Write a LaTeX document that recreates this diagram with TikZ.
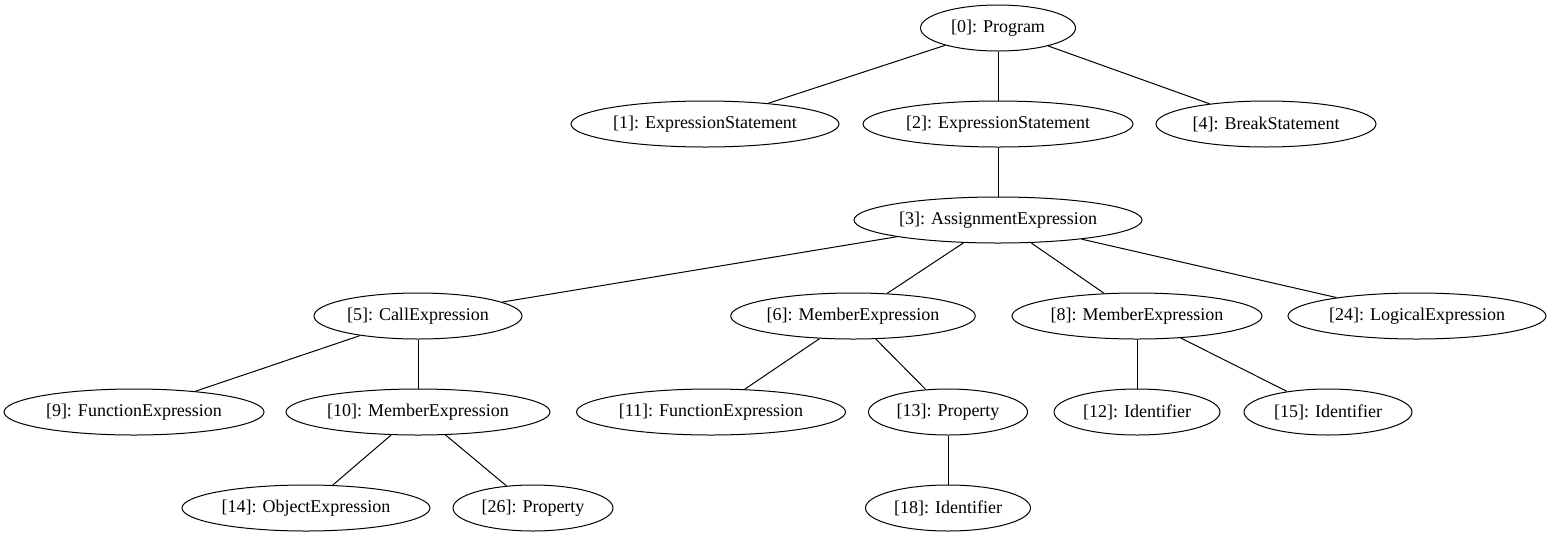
\documentclass[tikz,border=0pt]{standalone}
\usepackage{fontspec}
\setmainfont{Liberation Serif}
\usetikzlibrary{shapes.geometric}

\begin{document}
\begin{tikzpicture}[x=1pt, y=-1pt,
    treenode/.style={draw, ellipse, line width=1pt, inner sep=0pt, minimum height=46pt, font=\fontsize{18}{20}\selectfont},
    treeedge/.style={draw, line width=1pt}
    ]
    \useasboundingbox (0,0) rectangle (1551,539);

    \newcommand{\treenodes}{
        0/998/28/155/Program,
        1/705/124/268/ExpressionStatement,
        2/998/124/270/ExpressionStatement,
        4/1266/124/220/BreakStatement,
        3/998/220/288/AssignmentExpression,
        5/418/316/208/CallExpression,
        6/853/316/242/MemberExpression,
        8/1137/316/250/MemberExpression,
        24/1417/316/258/LogicalExpression,
        9/134/412/260/FunctionExpression,
        10/418/412/264/MemberExpression,
        11/711/412/269/FunctionExpression,
        13/948/412/159/Property,
        12/1137/412/166/Identifier,
        15/1328/412/168/Identifier,
        14/306/508/248/ObjectExpression,
        26/533/508/160/Property,
        18/948/508/165/Identifier%
    }

    \newcommand{\treeedges}{
        0/1, 0/2, 0/4, 2/3, 3/5, 3/6, 3/8, 3/24,
        5/9, 5/10, 6/11, 6/13, 8/12, 8/15, 10/14, 10/26, 13/18%
    }

    % Define nodes
    \foreach \idx/\px/\py/\ewidth/\lbl in \treenodes {
        \node[treenode, minimum width=\ewidth pt] (N\idx) at (\px,\py) {[\idx]: \lbl};
    }

    % Define edges
    \foreach \src/\dst in \treeedges {
        \draw[treeedge] (N\src) -- (N\dst);
    }
\end{tikzpicture}
\end{document}
